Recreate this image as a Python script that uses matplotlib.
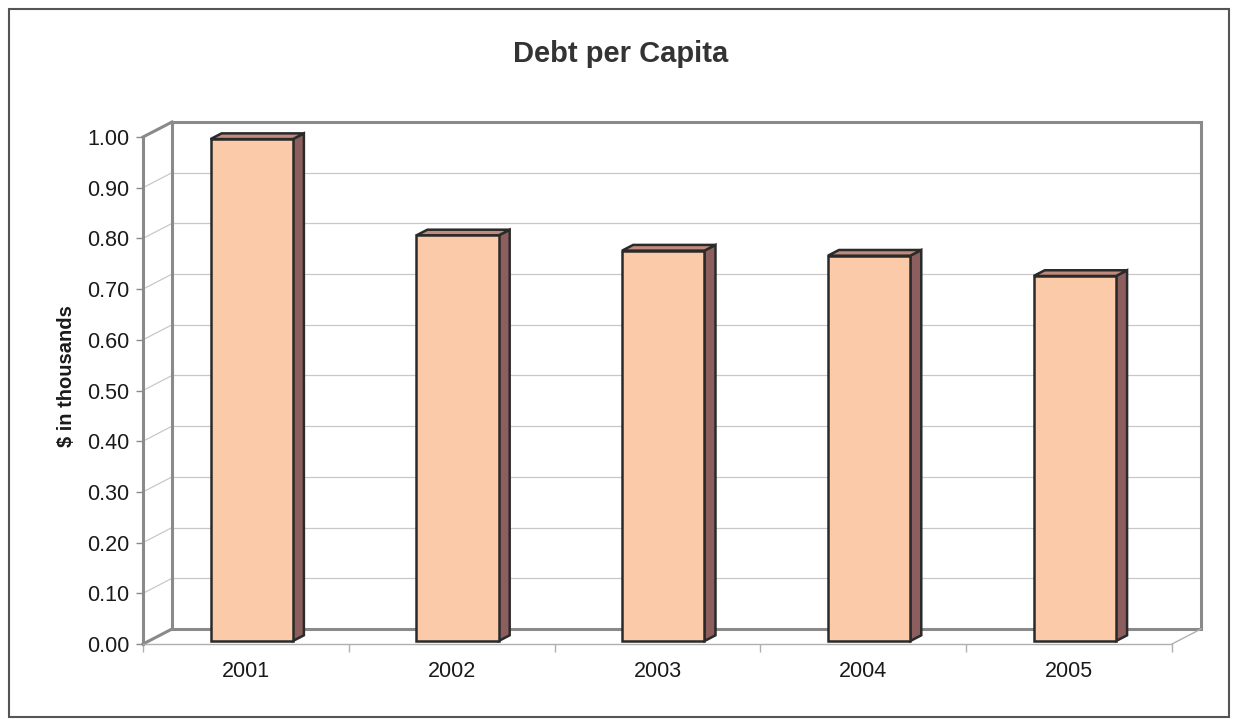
import matplotlib
matplotlib.use("Agg")
import matplotlib.pyplot as plt
from matplotlib.patches import Polygon, Rectangle
import numpy as np

# ---- data ----
years = ["2001", "2002", "2003", "2004", "2005"]
debt_per_capita = [0.99, 0.80, 0.77, 0.76, 0.72]
y_ticks = [0.0, 0.1, 0.2, 0.3, 0.4, 0.5, 0.6, 0.7, 0.8, 0.9, 1.0]
y_tick_labels = ["%.2f" % t for t in y_ticks]
title = "Debt per Capita"
y_label = "$ in thousands"

# ---- style ----
plt.rcParams['font.family'] = ['Liberation Sans', 'DejaVu Sans']
W, H = 1233, 719
fig = plt.figure(figsize=(W / 100, H / 100), dpi=100)

# oblique depth of the plot box (data units)
DX, DY = 0.141, 0.0296
BAR_D0 = 0.2      # depth fraction of bar front plane
BAR_DEPTH = 0.38  # bar thickness as fraction of full depth
BAR_W = 0.4

n = len(years)
x = np.arange(n)
x_lo, x_hi = -0.5, n - 0.5

ax = fig.add_axes([143 / W, (H - 644) / H, (1201 - 143) / W, (644 - 122) / H])
ax.set_xlim(x_lo, x_hi + DX)
ax.set_ylim(0, 1.0 + DY)
for s in ax.spines.values():
    s.set_visible(False)

wall_c = "#8a8a8a"
grid_c = "#c8c8c8"

# gridlines on back wall and side wall
for t in y_ticks[1:-1]:
    ax.plot([x_lo + DX, x_hi + DX], [t + DY, t + DY], color=grid_c, lw=0.9, zorder=1, clip_on=False)
    ax.plot([x_lo, x_lo + DX], [t, t + DY], color=grid_c, lw=0.9, zorder=1, clip_on=False)

# back wall border
ax.add_patch(Rectangle((x_lo + DX, DY), (x_hi - x_lo), 1.0, fill=False,
                       edgecolor=wall_c, lw=2.2, zorder=2, clip_on=False))
# side wall
ax.plot([x_lo, x_lo], [0, 1.0], color=wall_c, lw=2.2, zorder=2, clip_on=False)
ax.plot([x_lo, x_lo + DX], [1.0, 1.0 + DY], color=wall_c, lw=2.2, zorder=2, clip_on=False)
ax.plot([x_lo, x_lo + DX], [0, DY], color=wall_c, lw=2.2, zorder=2, clip_on=False)
# floor front and right edges
ax.plot([x_lo, x_hi], [0, 0], color="#b0b0b0", lw=1.0, zorder=2, clip_on=False)
ax.plot([x_hi, x_hi + DX], [0, DY], color="#b0b0b0", lw=1.0, zorder=2, clip_on=False)

# bars
front_c = "#fbcaa9"
side_c = "#8c5f5e"
top_c = "#c08a7c"
edge_c = "#2a2a2a"
b0x, b0y = BAR_D0 * DX, BAR_D0 * DY
bdx, bdy = BAR_DEPTH * DX, BAR_DEPTH * DY
bars = ax.bar(x + b0x, debt_per_capita, width=BAR_W, bottom=b0y, color=front_c,
              edgecolor=edge_c, linewidth=1.8, zorder=5, clip_on=False)
for rect in bars:
    xl = rect.get_x()
    xr = xl + rect.get_width()
    yb = rect.get_y()
    yt = yb + rect.get_height()
    side = Polygon([(xr, yb), (xr + bdx, yb + bdy), (xr + bdx, yt + bdy), (xr, yt)],
                   closed=True, facecolor=side_c, edgecolor=edge_c, lw=1.8, zorder=4, clip_on=False,
                   joinstyle='miter')
    top = Polygon([(xl, yt), (xr, yt), (xr + bdx, yt + bdy), (xl + bdx, yt + bdy)],
                  closed=True, facecolor=top_c, edgecolor=edge_c, lw=1.8, zorder=4, clip_on=False,
                  joinstyle='miter')
    ax.add_patch(side)
    ax.add_patch(top)

# y axis ticks
ax.set_yticks(y_ticks)
ax.set_yticklabels(y_tick_labels, fontsize=15.5, color="#1a1a1a")
ax.tick_params(axis='y', direction='out', length=5, width=1, color="#8a8a8a", pad=5)

# x axis: boundary ticks + centred labels
ax.set_xticks(np.arange(x_lo, x_hi + 0.01, 1.0))
ax.set_xticklabels([])
ax.set_xticks(x, minor=True)
ax.set_xticklabels(years, minor=True, fontsize=15.5, color="#1a1a1a")
ax.tick_params(axis='x', which='major', direction='out', length=6, width=1, color="#b0b0b0")
ax.tick_params(axis='x', which='minor', length=0, pad=12)

# title and y label
fig.text(621 / W, 1 - 62 / H, title, ha='center', va='baseline', fontsize=21,
         fontweight='bold', color="#333333")
fig.text(67 / W, 1 - 376 / H, y_label, ha='center', va='center', rotation=90,
         fontsize=14.5, fontweight='bold', color="#1a1a1a")

# outer frame
fig.patches.append(Rectangle((9 / W, 1 - 717 / H), (1229 - 9) / W, (717 - 9) / H,
                             transform=fig.transFigure, fill=False, edgecolor="#555555", lw=1.5))

fig.savefig("out.png", dpi=100)
